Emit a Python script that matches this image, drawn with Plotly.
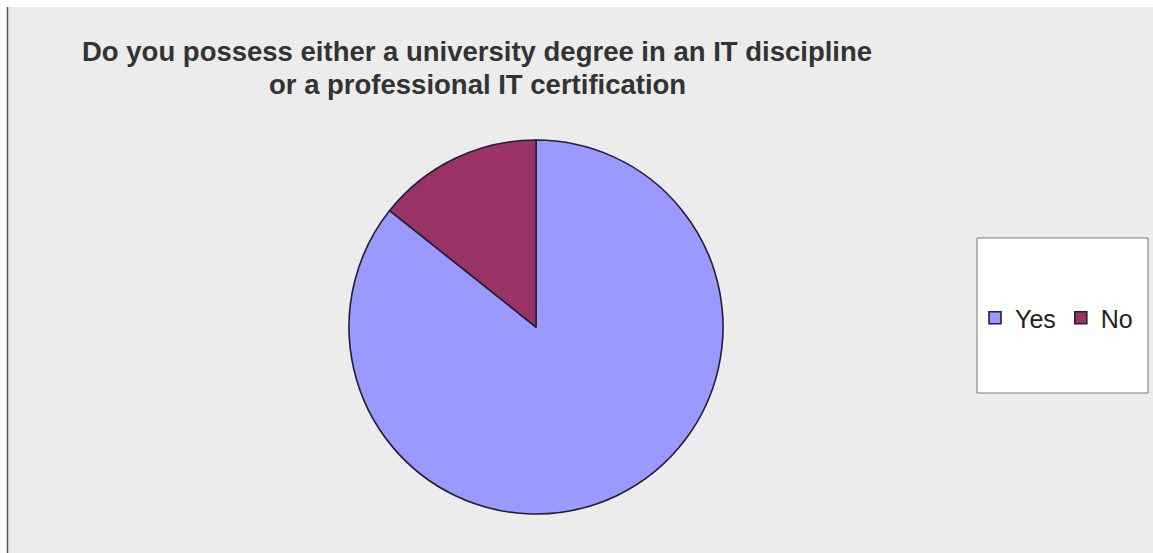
import plotly.graph_objects as go

labels = ["Yes", "No"]
values = [85.7, 14.3]
colors = ["#9999FF", "#993366"]

title_lines = ["Do you possess either a university degree in an IT discipline",
               "or a professional IT certification"]

W, H = 1153, 553

def px_x(x):
    return x / W

def px_y(y):
    return 1 - y / H

fig = go.Figure()
fig.add_trace(go.Pie(
    labels=labels,
    values=values,
    marker=dict(colors=colors, line=dict(color="#221f33", width=1.6)),
    sort=False,
    direction="counterclockwise",
    rotation=0,
    textinfo="none",
    hoverinfo="label+percent",
    domain=dict(x=[px_x(349), px_x(723)], y=[px_y(514), px_y(140)]),
))

# two-line title, one annotation per line for tight line spacing
title_y = [51, 85]
title_annotations = [
    dict(text="<b>%s</b>" % line, xref="paper", yref="paper",
         x=px_x(477), y=px_y(yc), xanchor="center", yanchor="middle",
         showarrow=False, align="center",
         font=dict(size=27.5, color="#333333"))
    for line, yc in zip(title_lines, title_y)
]

fig.update_layout(
    width=W, height=H,
    margin=dict(l=0, r=0, t=0, b=0),
    paper_bgcolor="white",
    plot_bgcolor="white",
    font=dict(family="Liberation Sans, Arial, sans-serif"),
    showlegend=True,
    legend=dict(
        orientation="h",
        x=px_x(975), xanchor="left",
        y=px_y(318), yanchor="middle",
        bgcolor="rgba(0,0,0,0)",
        borderwidth=0,
        font=dict(size=25, color="#222222"),
        itemwidth=30,
    ),
    shapes=[
        dict(type="rect", xref="paper", yref="paper",
             x0=px_x(8), x1=1, y0=0, y1=px_y(7),
             fillcolor="#ececec", line=dict(width=0), layer="below"),
        dict(type="line", xref="paper", yref="paper",
             x0=px_x(7.5), x1=px_x(7.5), y0=0, y1=px_y(7),
             line=dict(color="#555555", width=1.5)),
        dict(type="rect", xref="paper", yref="paper",
             x0=px_x(977), x1=px_x(1148), y0=px_y(393), y1=px_y(238),
             fillcolor="white", line=dict(color="#777777", width=1), layer="below"),
    ],
    annotations=title_annotations,
)

fig.write_html("out.html")
